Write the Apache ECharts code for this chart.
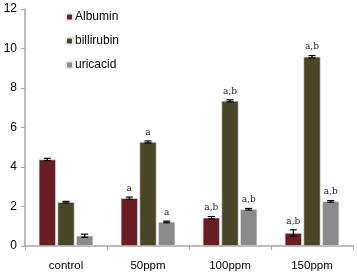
<!DOCTYPE html>
<html><head><meta charset="utf-8">
<script src="https://cdn.jsdelivr.net/npm/echarts@6/dist/echarts.min.js"></script>
<style>html,body{margin:0;padding:0;background:#fff}#c{width:357px;height:275px}</style>
</head><body><div id="c"></div>
<script>
const categories = ['control', '50ppm', '100ppm', '150ppm'];
const seriesNames = ['Albumin', 'billirubin', 'uricacid'];
const albumin = [4.38, 2.42, 1.43, 0.66];
const billirubin = [2.22, 5.27, 7.35, 9.58];
const uricacid = [0.52, 1.22, 1.86, 2.26];
const albuminErr = [0.06, 0.06, 0.06, 0.16];
const billirubinErr = [0.04, 0.05, 0.05, 0.06];
const uricacidErr = [0.08, 0.04, 0.04, 0.04];
const albuminSig = ['', 'a', 'a,b', 'a,b'];
const billirubinSig = ['', 'a', 'a,b', 'a,b'];
const uricacidSig = ['', 'a', 'a,b', 'a,b'];
const yTicks = [0, 2, 4, 6, 8, 10, 12];

const colors = ['#6a1d22', '#4b4527', '#8a8a8a'];
const values = [albumin, billirubin, uricacid];
const errs = [albuminErr, billirubinErr, uricacidErr];
const sigs = [albuminSig, billirubinSig, uricacidSig];
const BW = 17, GAP = 1.7;

const chart = echarts.init(document.getElementById('c'));
const series = [];
values.forEach((vals, si) => {
  series.push({
    name: seriesNames[si], type: 'bar', barWidth: BW, barGap: '10%',
    itemStyle: { color: colors[si], borderColor: '#e4e6ec', borderWidth: 0.6 },
    label: {
      show: true, position: 'top', distance: 4,
      fontFamily: 'DejaVu Serif', fontSize: 9, color: '#222',
      formatter: p => sigs[si][p.dataIndex]
    },
    data: vals.map((v, i) => ({ value: v, label: { distance: 4 + errs[si][i] * 19.7 } }))
  });
  series.push({
    type: 'custom', silent: true, z: 5,
    data: vals.map((v, i) => [i, v, errs[si][i]]),
    renderItem: (params, api) => {
      const i = api.value(0), v = api.value(1), e = api.value(2);
      const c = api.coord([i, v]);
      const x = c[0] + (si - 1) * (BW + GAP);
      const yt = api.coord([i, v + e])[1], yb = api.coord([i, v - e])[1];
      const st = { stroke: '#000', lineWidth: 1.2 };
      return { type: 'group', children: [
        { type: 'line', shape: { x1: x, y1: yt, x2: x, y2: yb }, style: st },
        { type: 'line', shape: { x1: x - 3.5, y1: yt, x2: x + 3.5, y2: yt }, style: st },
        { type: 'line', shape: { x1: x - 3.5, y1: yb, x2: x + 3.5, y2: yb }, style: st }
      ]};
    }
  });
});

chart.setOption({
  animation: false,
  textStyle: { fontFamily: 'Liberation Sans' },
  legend: {
    orient: 'vertical', left: 60, top: 6, itemWidth: 7, itemHeight: 7, itemGap: 12,
    data: seriesNames.map((n, i) => ({ name: n, itemStyle: { color: colors[i] } })),
    textStyle: { fontSize: 12, color: '#000', fontFamily: 'Liberation Sans', padding: [0, 0, 0, -3] }
  },
  grid: { left: 25, right: 4, top: 9, bottom: 29, containLabel: false },
  xAxis: {
    type: 'category', data: categories,
    axisLine: { lineStyle: { color: '#a6a6a6', width: 1.5 } },
    axisTick: { show: true, alignWithLabel: false, length: 4, lineStyle: { color: '#a6a6a6' } },
    axisLabel: { color: '#000', fontSize: 11.5, margin: 14 }
  },
  yAxis: {
    type: 'value', min: yTicks[0], max: yTicks[yTicks.length - 1], interval: 2,
    splitLine: { show: false },
    axisLine: { show: true, lineStyle: { color: '#a6a6a6', width: 1.5 } },
    axisTick: { show: true, length: 4, lineStyle: { color: '#a6a6a6' } },
    axisLabel: { color: '#000', fontSize: 12, margin: 8 }
  },
  series
});
</script></body></html>
